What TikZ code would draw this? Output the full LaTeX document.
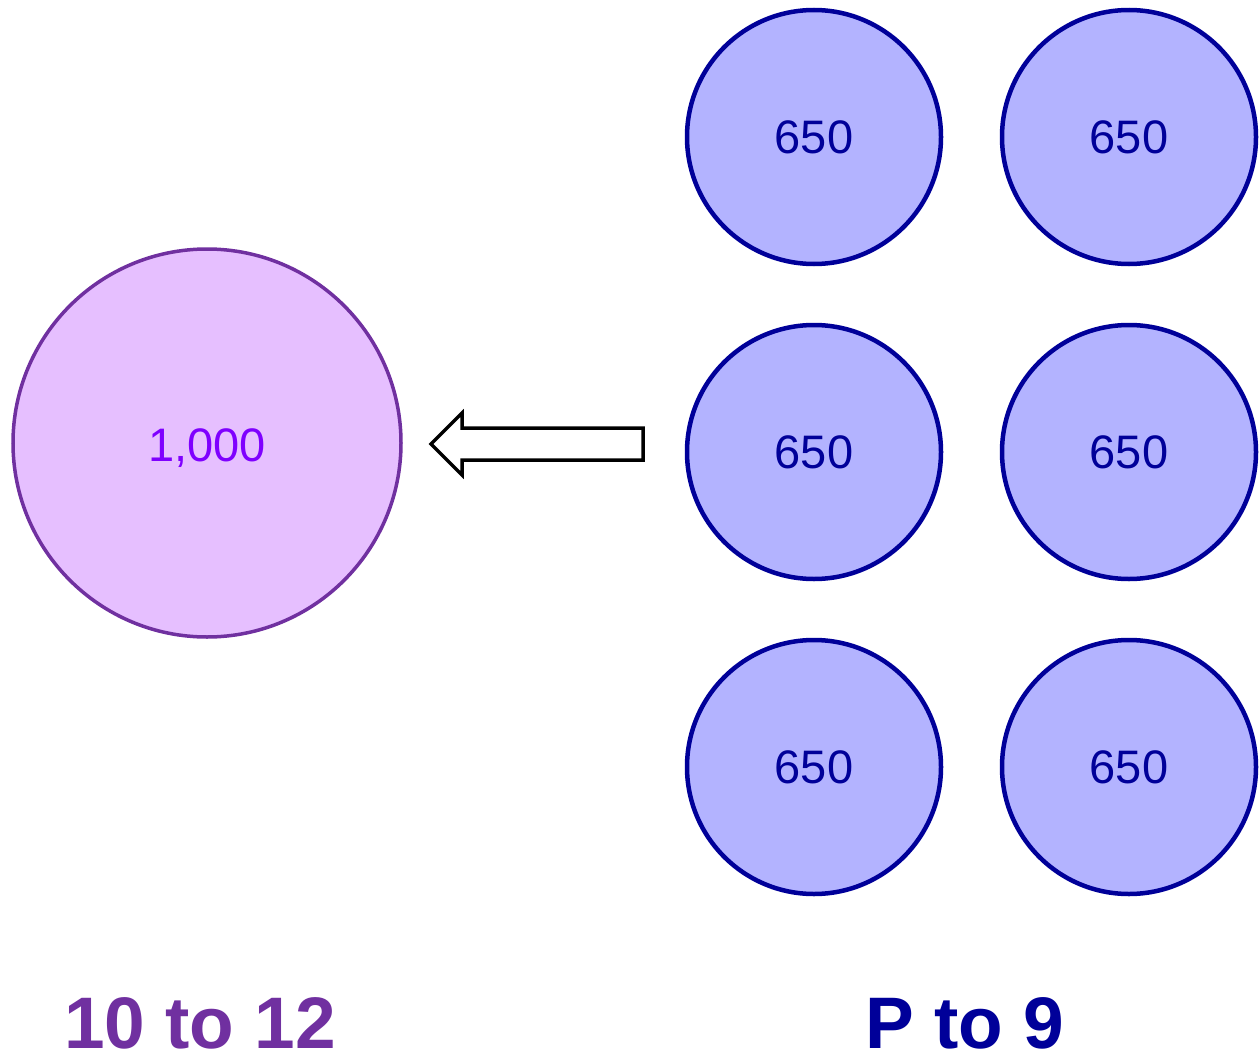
\documentclass[tikz,border=0pt]{standalone}
\usepackage{fontspec}
\setmainfont{Liberation Sans}
\definecolor{bigfill}{HTML}{E6BFFF}
\definecolor{bigline}{HTML}{7030A0}
\definecolor{bigtext}{HTML}{7F00FF}
\definecolor{smallfill}{HTML}{B3B3FF}
\definecolor{smallline}{HTML}{000099}
\begin{document}
\begin{tikzpicture}[x=1pt,y=-1pt,
  bigcirc/.style={circle,draw=bigline,fill=bigfill,line width=3.5pt,minimum size=388pt,inner sep=0pt,text=bigtext,font=\fontsize{47}{56}\selectfont},
  smallcirc/.style={circle,draw=smallline,fill=smallfill,line width=4.5pt,minimum size=254pt,inner sep=0pt,text=smallline,font=\fontsize{47}{56}\selectfont},
  lbl/.style={anchor=base,inner sep=0pt,font=\bfseries\fontsize{73}{88}\selectfont}]
\useasboundingbox (0,0) rectangle (1259,1060);
\node[bigcirc] (big) at (207,443) {};
\node[text=bigtext,font=\fontsize{47}{56}\selectfont] (bigtxt) at (207,448) {1,000};
\node[smallcirc] (s1) at (814,137) {650};
\node[smallcirc] (s2) at (1129,137) {650};
\node[smallcirc] (s3) at (814,452) {650};
\node[smallcirc] (s4) at (1129,452) {650};
\node[smallcirc] (s5) at (814,767) {650};
\node[smallcirc] (s6) at (1129,767) {650};
\draw[line width=3.5pt,line join=miter,fill=white] (643,428) -- (462,428) -- (462,413) -- (431,444) -- (462,475) -- (462,460) -- (643,460) -- cycle;
\node[lbl,text=bigline] (l1) at (200,1048) {10 to 12};
\node[lbl,text=smallline] (l2) at (965,1048) {P to 9};
\end{tikzpicture}
\end{document}
